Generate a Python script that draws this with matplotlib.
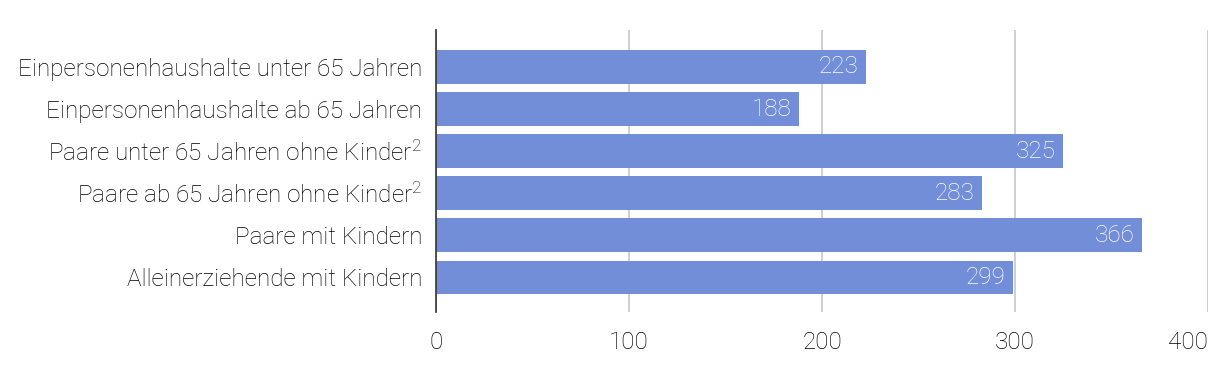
import matplotlib
matplotlib.use("Agg")
import matplotlib.pyplot as plt

categories = [
    "Einpersonenhaushalte unter 65 Jahren",
    "Einpersonenhaushalte ab 65 Jahren",
    "Paare unter 65 Jahren ohne Kinder$^{2}$",
    "Paare ab 65 Jahren ohne Kinder$^{2}$",
    "Paare mit Kindern",
    "Alleinerziehende mit Kindern",
]
values = [223, 188, 325, 283, 366, 299]
xticks = [0, 100, 200, 300, 400]

plt.rcParams['font.family'] = ['Roboto', 'DejaVu Sans']
plt.rcParams['mathtext.fontset'] = 'custom'
plt.rcParams['mathtext.rm'] = 'Roboto:light'
plt.rcParams['mathtext.it'] = 'Roboto:light'
plt.rcParams['mathtext.default'] = 'rm'

fig = plt.figure(figsize=(12.2, 3.7), dpi=100)
ax = fig.add_axes([436/1220, 1-312/370, (1208-436)/1220, (312-30)/370])

y = list(range(len(categories)))
ax.barh(y, values, height=0.79, color="#738ED9", zorder=3)
for yi, v in zip(y, values):
    ax.text(v - 4, yi, str(v), ha="right", va="center", color="white",
            fontsize=17.5, fontweight="light", zorder=4)

ax.set_xlim(0, 400)
ax.set_ylim(5.83, -0.88)
ax.set_yticks(y)
ax.set_yticklabels(categories, fontsize=17.5, fontweight="light", color="#000000")
ax.set_xticks(xticks)
ax.set_xticklabels([str(t) for t in xticks], fontsize=17.5, fontweight="light", color="#000000")
ax.get_xticklabels()[-1].set_horizontalalignment("right")
ax.tick_params(axis="both", length=0)
ax.tick_params(axis="y", pad=10)
ax.tick_params(axis="x", pad=14)
ax.grid(axis="x", color="#cccccc", linewidth=1.3, zorder=0)
for s in ["top", "right", "bottom"]:
    ax.spines[s].set_visible(False)
ax.spines["left"].set_color("#333333")
ax.spines["left"].set_linewidth(1.2)
ax.spines["left"].set_zorder(5)

fig.savefig("out.png", dpi=100)
